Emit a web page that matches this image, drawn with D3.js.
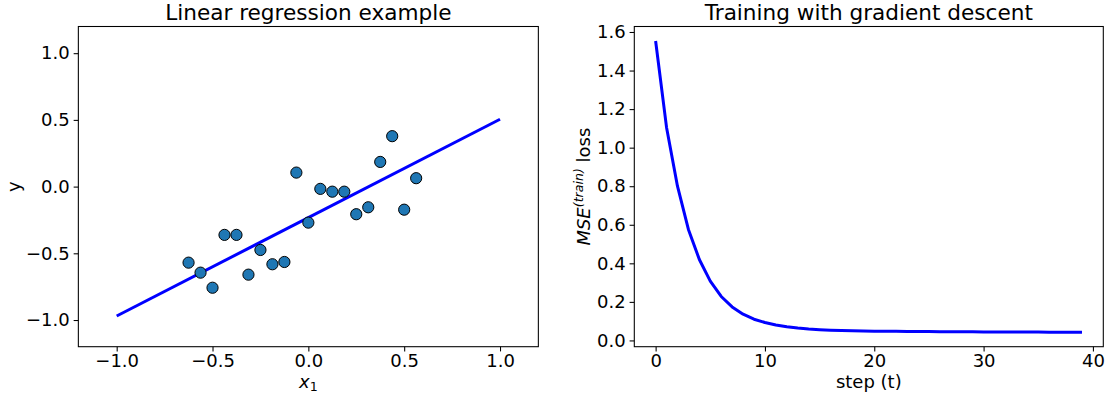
<!DOCTYPE html>
<html><head><meta charset="utf-8">
<script src="https://cdn.jsdelivr.net/npm/d3@7"></script>
<style>
body{margin:0;background:#fff}
text{font-family:"DejaVu Sans";fill:#000}
</style></head>
<body><svg id="c" width="1107" height="399"></svg>
<script>
// ---- data ----
const pointX = [-0.625,-0.5625,-0.5,-0.4375,-0.375,-0.3125,-0.25,-0.1875,-0.125,-0.0625,0,0.0625,0.125,0.1875,0.25,0.3125,0.375,0.4375,0.5,0.5625];
const pointY = [-0.570,-0.645,-0.758,-0.362,-0.362,-0.660,-0.475,-0.582,-0.565,0.105,-0.270,-0.017,-0.038,-0.038,-0.207,-0.155,0.185,0.378,-0.173,0.063];
const fitX = [-1, 1];
const fitY = [-0.970, 0.505];
const lossSteps = [0,1,2,3,4,5,6,7,8,9,10,11,12,13,14,15,16,17,18,19,20,21,22,23,24,25,26,27,28,29,30,31,32,33,34,35,36,37,38,39];
const lossValues = [1.553,1.105,0.800,0.576,0.420,0.308,0.228,0.174,0.136,0.110,0.093,0.080,0.071,0.064,0.059,0.056,0.053,0.051,0.050,0.049,0.048,0.047,0.047,0.046,0.046,0.046,0.045,0.045,0.045,0.045,0.044,0.044,0.044,0.044,0.044,0.044,0.043,0.043,0.043,0.043];
const leftXTicks = [-1,-0.5,0,0.5,1];
const leftXTickLabels = ["\u22121.0","\u22120.5","0.0","0.5","1.0"];
const leftYTicks = [-1,-0.5,0,0.5,1];
const leftYTickLabels = ["\u22121.0","\u22120.5","0.0","0.5","1.0"];
const rightXTicks = [0,10,20,30,40];
const rightXTickLabels = ["0","10","20","30","40"];
const rightYTicks = [0,0.2,0.4,0.6,0.8,1.0,1.2,1.4,1.6];
const rightYTickLabels = ["0.0","0.2","0.4","0.6","0.8","1.0","1.2","1.4","1.6"];
const titles = ["Linear regression example","Training with gradient descent"];

// ---- layout ----
const svg = d3.select("#c");
const yTop = 26.5, yBot = 346.7;
const L = {x0:78.35, x1:538.35};
const R = {x0:634.3, x1:1103.3};
const TICK = 18, TITLE = 21.6, LAB = 18;

function pad(ext){const r=ext[1]-ext[0];return [ext[0]-0.05*r, ext[1]+0.05*r];}

const xL = d3.scaleLinear().domain([-1.2,1.2]).range([L.x0,L.x1]);
const yL = d3.scaleLinear().domain([-1.2,1.2]).range([yBot,yTop]);
const xR = d3.scaleLinear().domain(pad(d3.extent(lossSteps))).range([R.x0,R.x1]);
const yR = d3.scaleLinear().domain(pad(d3.extent(lossValues))).range([yBot,yTop]);

function styleAxis(g){
  g.select(".domain").remove();
  g.selectAll("line").attr("stroke","#000").attr("stroke-width",1.07);
  g.selectAll("text").attr("font-size",TICK).attr("font-family","DejaVu Sans").attr("fill","#000");
  g.attr("font-size",null).attr("font-family",null);
}
function axes(x,y,xt,xtl,yt,ytl){
  svg.append("g").attr("transform",`translate(0,${yBot})`)
    .call(d3.axisBottom(x).tickValues(xt).tickFormat((d,i)=>xtl[i]).tickSize(4.7).tickPadding(3.3)).call(styleAxis);
  svg.append("g").attr("transform",`translate(${x.range()[0]},0)`)
    .call(d3.axisLeft(y).tickValues(yt).tickFormat((d,i)=>ytl[i]).tickSize(4.7).tickPadding(4)).call(styleAxis);
}

// ---- left chart ----
svg.append("path")
  .attr("d", d3.line().x((d,i)=>xL(fitX[i])).y((d,i)=>yL(fitY[i]))(fitX))
  .attr("fill","none").attr("stroke","#0000ff").attr("stroke-width",3);
svg.append("g").selectAll("circle").data(pointX).join("circle")
  .attr("cx",(d)=>xL(d)).attr("cy",(d,i)=>yL(pointY[i])).attr("r",5.6)
  .attr("fill","#1f77b4").attr("stroke","#000").attr("stroke-width",1);
axes(xL,yL,leftXTicks,leftXTickLabels,leftYTicks,leftYTickLabels);
svg.append("rect").attr("x",L.x0).attr("y",yTop).attr("width",L.x1-L.x0).attr("height",yBot-yTop)
  .attr("fill","none").attr("stroke","#000").attr("stroke-width",1.07);

// ---- right chart ----
svg.append("path")
  .attr("d", d3.line().x((d)=>xR(d)).y((d,i)=>yR(lossValues[i]))(lossSteps))
  .attr("fill","none").attr("stroke","#0000ff").attr("stroke-width",3).attr("stroke-linejoin","round");
axes(xR,yR,rightXTicks,rightXTickLabels,rightYTicks,rightYTickLabels);
svg.append("rect").attr("x",R.x0).attr("y",yTop).attr("width",R.x1-R.x0).attr("height",yBot-yTop)
  .attr("fill","none").attr("stroke","#000").attr("stroke-width",1.07);

// ---- titles ----
svg.append("text").attr("x",(L.x0+L.x1)/2).attr("y",20).attr("text-anchor","middle").attr("font-size",TITLE).text(titles[0]);
svg.append("text").attr("x",(R.x0+R.x1)/2).attr("y",20).attr("text-anchor","middle").attr("font-size",TITLE).text(titles[1]);

// ---- axis labels ----
const xl = svg.append("text").attr("x",(L.x0+L.x1)/2).attr("y",388).attr("text-anchor","middle").attr("font-size",LAB);
xl.append("tspan").attr("font-style","italic").text("x");
xl.append("tspan").attr("font-size",LAB*0.7).attr("dy",3).text("1");

svg.append("text").attr("transform",`translate(20,${(yTop+yBot)/2}) rotate(-90)`)
  .attr("text-anchor","middle").attr("font-size",LAB).text("y");

svg.append("text").attr("x",(R.x0+R.x1)/2).attr("y",388).attr("text-anchor","middle").attr("font-size",LAB).text("step (t)");

const yl = svg.append("text").attr("transform",`translate(590,${(yTop+yBot)/2}) rotate(-90)`)
  .attr("text-anchor","middle").attr("font-size",LAB);
yl.append("tspan").attr("font-style","italic").text("MSE");
yl.append("tspan").attr("font-style","italic").attr("font-size",LAB*0.7).attr("dy",-7).text("(train)");
yl.append("tspan").attr("dy",7).text(" loss");
</script></body></html>
